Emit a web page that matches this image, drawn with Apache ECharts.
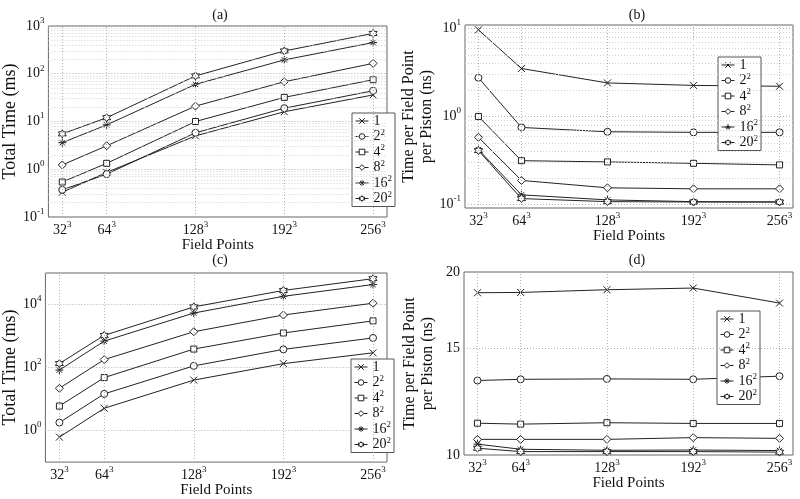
<!DOCTYPE html>
<html><head><meta charset="utf-8">
<script src="https://cdn.jsdelivr.net/npm/echarts@6/dist/echarts.min.js"></script>
<style>html,body{margin:0;padding:0;background:#fff}#c{width:800px;height:499px}</style>
</head><body><div id="c"></div>
<script>
// ---- data ----
const xTicks = [32, 64, 128, 192, 256];           // field points per side (N^3)
const seriesNames = ['1', '2^2', '4^2', '8^2', '16^2', '20^2'];
// (a) Total Time (ms)
const a1  = [0.33, 0.86, 5.0, 16, 36];
const a2  = [0.37, 0.79, 5.8, 19, 44];
const a4  = [0.54, 1.33, 10, 32, 75];
const a8  = [1.23, 3.1, 21, 68, 165];
const a16 = [3.6, 8.5, 60, 195, 450];
const a20 = [5.5, 12, 90, 300, 700];
// (b) Time per Field Point per Piston (ns)
const b1  = [9.6, 3.5, 2.4, 2.25, 2.2];
const b2  = [2.75, 0.75, 0.67, 0.66, 0.66];
const b4  = [1.0, 0.315, 0.305, 0.294, 0.282];
const b8  = [0.58, 0.188, 0.155, 0.151, 0.151];
const b16 = [0.42, 0.129, 0.113, 0.108, 0.107];
const b20 = [0.41, 0.117, 0.108, 0.107, 0.107];
// (c) Total Time (ms)
const c1  = [0.62, 5.1, 40, 133, 293];
const c2  = [1.8, 14.6, 113, 377, 870];
const c4  = [6.0, 48, 386, 1250, 3030];
const c8  = [22, 179, 1370, 4650, 11000];
const c16 = [83, 690, 5370, 18200, 43000];
const c20 = [134, 1050, 8400, 28000, 66000];
// (d) Time per Field Point per Piston (ns)
const d1  = [18.49, 18.51, 18.7, 18.82, 17.78];
const d2  = [13.26, 13.32, 13.34, 13.32, 13.48];
const d4  = [11.28, 11.24, 11.30, 11.27, 11.27];
const d8  = [10.61, 10.61, 10.61, 10.68, 10.65];
const d16 = [10.42, 10.22, 10.18, 10.19, 10.17];
const d20 = [10.26, 10.13, 10.13, 10.13, 10.11];
const dTicks = [10, 15, 20];
const panelData = [[a1,a2,a4,a8,a16,a20],[b1,b2,b4,b8,b16,b20],[c1,c2,c4,c8,c16,c20],[d1,d2,d4,d8,d16,d20]];
const titles = ['(a)', '(b)', '(c)', '(d)'];
const yNames = ['Total Time (ms)', 'Time per Field Point\nper Piston (ns)', 'Total Time (ms)', 'Time per Field Point\nper Piston (ns)'];

// ---- style ----
const FONT = 'Liberation Serif';
const INK = '#111';
const LINE = '#222';
const grids = [
  {left: 44, top: 26, width: 343, height: 191},
  {left: 465, top: 25, width: 328, height: 183},
  {left: 44, top: 273, width: 343, height: 191},
  {left: 464, top: 272, width: 329, height: 183}
];
const yRanges = [[0.1, 1000], [0.0915, 10.9], [0.1, 1e5], [10, 20]];
const legendPos = [[352, 113], [718, 57], [351, 359], [717, 311]];
const titlePos = [[215, 3], [632, 3], [215, 248], [632, 248]];
const symbols = [
  'path://M0,0L10,10M0,10L10,0',
  'circle',
  'rect',
  'diamond',
  'path://M5,0L5,10M0,5L10,5M1.6,1.6L8.4,8.4M8.4,1.6L1.6,8.4',
  'path://M5,0L6.44,2.5L9.33,2.5L7.89,5L9.33,7.5L6.44,7.5L5,10L3.56,7.5L0.67,7.5L2.11,5L0.67,2.5L3.56,2.5Z'
];
const symSizes = [7, 7, 6, 8, 8, 8];
const rich = {
  b: {fontSize: 14, fontFamily: FONT, color: INK, lineHeight: 20},
  s: {fontSize: 9, fontFamily: FONT, color: INK, verticalAlign: 'top', lineHeight: 8}
};
const legendRich = {
  b: {fontSize: 14, fontFamily: FONT, color: INK, lineHeight: 17},
  s: {fontSize: 9, fontFamily: FONT, color: INK, verticalAlign: 'top', lineHeight: 8}
};
function supName(n) {
  const p = n.split('^');
  return p.length > 1 ? `{b|${p[0]}}{s|${p[1]}}` : `{b|${n}}`;
}
function pow10Label(v, evenOnly) {
  const l = Math.log10(v), e = Math.round(l);
  if (Math.abs(l - e) > 1e-6) return '';
  if (evenOnly && e % 2 !== 0) return '';
  return `{b|10}{s|${e}}`;
}
function minorLog(lo, hi) {
  const out = [];
  for (let e = Math.floor(Math.log10(lo)); e <= Math.ceil(Math.log10(hi)); e++)
    for (let m = 2; m <= 9; m++) {
      const v = m * Math.pow(10, e);
      if (v > lo * 1.0001 && v < hi * 0.9999) out.push(+v.toPrecision(6));
    }
  return out;
}
const dotted = {type: [1, 2], color: '#b0b0b0', width: 1};
const dottedMinor = {type: [1, 2], color: '#d0d0d0', width: 1};

const xAxis = [], yAxis = [], series = [], legend = [], title = [];
for (let i = 0; i < 4; i++) {
  xAxis.push({
    type: 'value', gridIndex: i, min: 22, max: 266, interval: 2,
    axisLine: {show: false}, axisTick: {show: false}, splitLine: {show: false},
    axisLabel: {customValues: xTicks, margin: 3, formatter: v => xTicks.includes(v) ? `{b|${v}}{s|3}` : '', rich},
    name: 'Field Points', nameLocation: 'middle', nameGap: 15,
    nameTextStyle: {fontFamily: FONT, fontSize: 15, color: INK}
  });
  const y = {
    type: 'log', gridIndex: i, min: yRanges[i][0], max: yRanges[i][1],
    axisLine: {show: false}, axisTick: {show: false},
    splitLine: {show: i !== 3, lineStyle: dotted},
    axisLabel: {margin: 4, rich, formatter: v => pow10Label(v, i === 2)},
    name: yNames[i], nameLocation: 'middle', nameGap: i % 2 === 0 ? 21 : 27,
    nameTextStyle: {fontFamily: FONT, fontSize: i % 2 === 0 ? 18 : 16, color: INK, lineHeight: 18}
  };
  if (i === 2) y.logBase = 100;
  if (i === 3) {
    y.axisLabel = {margin: 4, customValues: dTicks, fontFamily: FONT, fontSize: 14, color: INK, formatter: v => String(Math.round(v))};
  }
  yAxis.push(y);

  // grid lines (minor log lines and vertical lines at tick positions)
  const gl = xTicks.map(v => ({xAxis: v, lineStyle: dotted}));
  if (i < 2) minorLog(yRanges[i][0], yRanges[i][1]).forEach(v => gl.push({yAxis: v, lineStyle: dottedMinor}));
  if (i === 3) dTicks.filter(v => v > yRanges[3][0] && v < yRanges[3][1]).forEach(v => gl.push({yAxis: v, lineStyle: dotted}));
  series.push({
    type: 'line', xAxisIndex: i, yAxisIndex: i, data: [], silent: true, z: 1,
    markLine: {silent: true, symbol: ['none', 'none'], label: {show: false}, animation: false, data: gl}
  });

  panelData[i].forEach((arr, k) => {
    series.push({
      name: seriesNames[k], type: 'line', xAxisIndex: i, yAxisIndex: i, z: 3,
      data: arr.map((v, j) => [xTicks[j], v]),
      symbol: symbols[k], symbolSize: symSizes[k],
      lineStyle: {color: LINE, width: 1},
      itemStyle: {color: '#fff', borderColor: LINE, borderWidth: 1},
      emphasis: {disabled: true}, animation: false
    });
  });

  legend.push({
    data: seriesNames, orient: 'vertical', left: legendPos[i][0], top: legendPos[i][1],
    padding: [1, 3], itemGap: 0, itemWidth: 13, itemHeight: 7,
    backgroundColor: '#fff', borderColor: '#555', borderWidth: 1, borderRadius: 0,
    selectedMode: false, formatter: supName,
    itemStyle: {color: '#fff', borderColor: LINE, borderWidth: 1},
    lineStyle: {color: LINE, width: 1},
    textStyle: {fontFamily: FONT, fontSize: 14, color: INK, rich: legendRich}
  });
  title.push({
    text: titles[i], left: titlePos[i][0], top: titlePos[i][1], textAlign: 'center',
    textStyle: {fontFamily: FONT, fontSize: 14, fontWeight: 'normal', color: INK}
  });
}

const chart = echarts.init(document.getElementById('c'), null, {renderer: 'canvas'});
chart.setOption({
  animation: false,
  backgroundColor: '#fff',
  title, legend,
  grid: grids.map(g => Object.assign({show: true, borderColor: '#666', borderWidth: 1, backgroundColor: 'transparent'}, g)),
  xAxis, yAxis, series
});
</script></body></html>
